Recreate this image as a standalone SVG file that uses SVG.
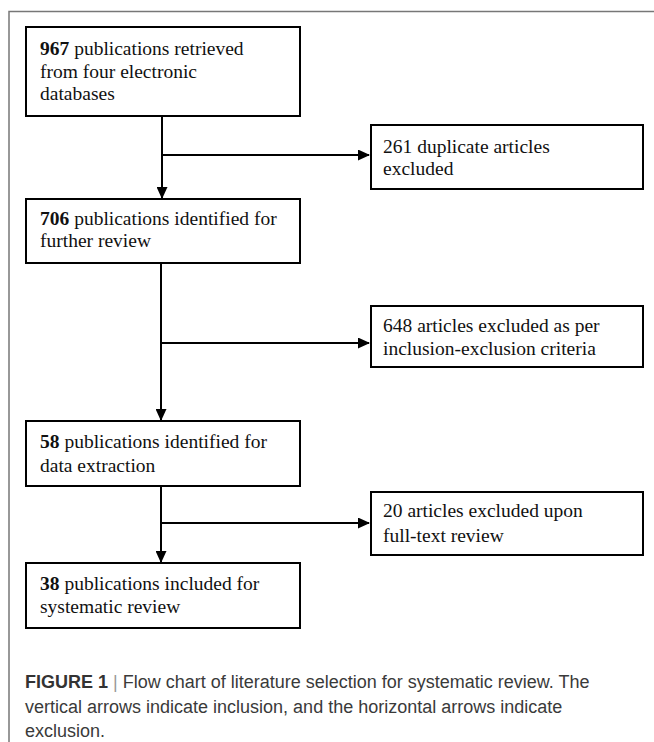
<svg xmlns="http://www.w3.org/2000/svg" width="654" height="742" viewBox="0 0 654 742">
<style>
.box{fill:#fff;stroke:#000;stroke-width:2}
.t{font-family:"Liberation Serif","Times New Roman",serif;font-size:19.5px;fill:#111}
.b{font-weight:bold}
.c{stroke:#000;stroke-width:2;fill:none}
.cap{font-family:"Liberation Sans",Arial,sans-serif;font-size:18px;fill:#3a3a3a}
</style>
<defs>
<marker id="ah" markerWidth="12" markerHeight="11" refX="11" refY="5.5" orient="auto" markerUnits="userSpaceOnUse">
<path d="M0,0 L12,5.5 L0,11 Z" fill="#000"/>
</marker>
</defs>
<path d="M654,11.5 H9 V742" fill="none" stroke="#777" stroke-width="1.5"/>
<g id="connectors">
<path class="c" d="M162,116 V198" marker-end="url(#ah)"/>
<path class="c" d="M162,155 H369" marker-end="url(#ah)"/>
<path class="c" d="M161,263 V420" marker-end="url(#ah)"/>
<path class="c" d="M161,343 H369" marker-end="url(#ah)"/>
<path class="c" d="M161,486 V562" marker-end="url(#ah)"/>
<path class="c" d="M161,523 H369" marker-end="url(#ah)"/>
</g>
<g id="n967">
<rect class="box" x="26" y="27" width="274" height="89"/>
<text class="t" x="40" y="55"><tspan class="b">967</tspan> publications retrieved</text>
<text class="t" x="40" y="77.5">from four electronic</text>
<text class="t" x="40" y="100">databases</text>
</g>
<g id="n261">
<rect class="box" x="371" y="125" width="272" height="64"/>
<text class="t" x="383" y="152.5">261 duplicate articles</text>
<text class="t" x="383" y="175">excluded</text>
</g>
<g id="n706">
<rect class="box" x="26" y="199" width="274" height="64"/>
<text class="t" x="40" y="224.5"><tspan class="b">706</tspan> publications identified for</text>
<text class="t" x="40" y="247">further review</text>
</g>
<g id="n648">
<rect class="box" x="371" y="306" width="272" height="61"/>
<text class="t" x="383" y="332">648 articles excluded as per</text>
<text class="t" x="383" y="355">inclusion-exclusion criteria</text>
</g>
<g id="n58">
<rect class="box" x="26" y="421" width="274" height="65"/>
<text class="t" x="40" y="448"><tspan class="b">58</tspan> publications identified for</text>
<text class="t" x="40" y="471.5">data extraction</text>
</g>
<g id="n20">
<rect class="box" x="371" y="492" width="272" height="63"/>
<text class="t" x="383" y="517">20 articles excluded upon</text>
<text class="t" x="383" y="541.5">full-text review</text>
</g>
<g id="n38">
<rect class="box" x="26" y="563" width="274" height="65"/>
<text class="t" x="40" y="590"><tspan class="b">38</tspan> publications included for</text>
<text class="t" x="40" y="613">systematic review</text>
</g>
<g id="caption">
<text class="cap" x="25" y="688"><tspan font-weight="bold" fill="#333">FIGURE 1</tspan><tspan fill="#999"> | </tspan>Flow chart of literature selection for systematic review. The</text>
<text class="cap" x="25" y="713">vertical arrows indicate inclusion, and the horizontal arrows indicate</text>
<text class="cap" x="25" y="737">exclusion.</text>
</g>
</svg>
